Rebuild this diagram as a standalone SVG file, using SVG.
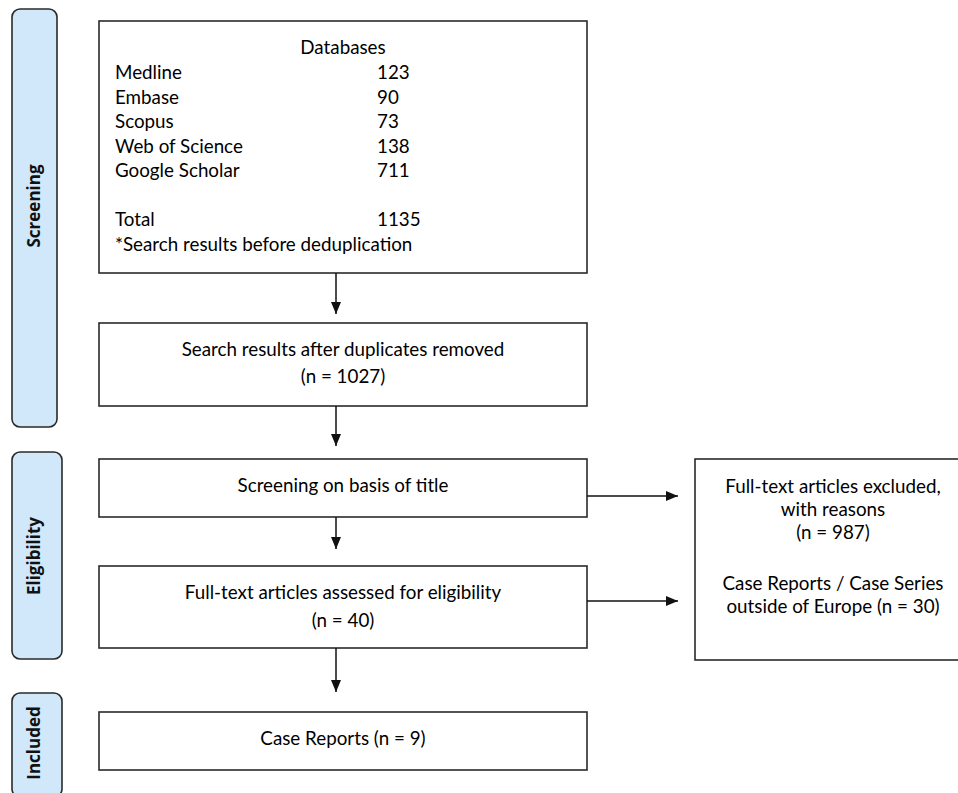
<svg xmlns="http://www.w3.org/2000/svg" width="958" height="793" viewBox="0 0 958 793">
<defs>
<marker id="ah" markerWidth="12" markerHeight="10" refX="12" refY="5" orient="auto" markerUnits="userSpaceOnUse">
<path d="M0,0 L12,5 L0,10 Z" fill="#111"/>
</marker>
<style>
.side{fill:#d0e8fa;stroke:#2a2a2a;stroke-width:1.6}
.box{fill:#fff;stroke:#2a2a2a;stroke-width:1.6}
.st{font-family:"Open Sans","Liberation Sans",sans-serif;font-weight:bold;font-size:17px;fill:#111;text-anchor:middle}
.t{font-family:Lato,"Liberation Sans",sans-serif;font-size:18.8px;fill:#000}
.c{text-anchor:middle}
.conn{stroke:#111;stroke-width:1.5;fill:none;marker-end:url(#ah)}
</style>
</defs>
<rect width="958" height="793" fill="#fff"/>
<g id="stage-screening">
<rect class="side" x="12" y="9" width="45" height="418" rx="8"/>
<text class="st" transform="translate(40,206) rotate(-90)">Screening</text>
</g>
<g id="stage-eligibility">
<rect class="side" x="12" y="452" width="50" height="207" rx="8"/>
<text class="st" transform="translate(40,556) rotate(-90)">Eligibility</text>
</g>
<g id="stage-included">
<rect class="side" x="12" y="693" width="50" height="104" rx="8"/>
<text class="st" transform="translate(40,743) rotate(-90)">Included</text>
</g>
<g id="databases">
<rect class="box" x="99" y="21" width="488" height="252"/>
<text class="t c" x="343" y="54">Databases</text>
<text class="t" x="115" y="79">Medline</text><text class="t" x="377" y="79">123</text>
<text class="t" x="115" y="103.5">Embase</text><text class="t" x="377" y="103.5">90</text>
<text class="t" x="115" y="128">Scopus</text><text class="t" x="377" y="128">73</text>
<text class="t" x="115" y="152.5">Web of Science</text><text class="t" x="377" y="152.5">138</text>
<text class="t" x="115" y="177">Google Scholar</text><text class="t" x="377" y="177">711</text>
<text class="t" x="115" y="226">Total</text><text class="t" x="377" y="226">1135</text>
<text class="t" x="115" y="250.5">*Search results before deduplication</text>
</g>
<g id="dedup">
<rect class="box" x="99" y="323" width="488" height="83"/>
<text class="t c" x="343" y="356">Search results after duplicates removed</text>
<text class="t c" x="343" y="383">(n = 1027)</text>
</g>
<g id="title-screen">
<rect class="box" x="99" y="459" width="488" height="58"/>
<text class="t c" x="343" y="492">Screening on basis of title</text>
</g>
<g id="fulltext">
<rect class="box" x="99" y="566" width="488" height="82"/>
<text class="t c" x="343" y="599">Full-text articles assessed for eligibility</text>
<text class="t c" x="343" y="627">(n = 40)</text>
</g>
<g id="included">
<rect class="box" x="99" y="712" width="488" height="58"/>
<text class="t c" x="343" y="745">Case Reports (n = 9)</text>
</g>
<g id="excluded">
<rect class="box" x="695" y="459" width="280" height="201"/>
<text class="t c" x="833" y="493">Full-text articles excluded,</text>
<text class="t c" x="833" y="516">with reasons</text>
<text class="t c" x="833" y="539">(n = 987)</text>
<text class="t c" x="833" y="590">Case Reports / Case Series</text>
<text class="t c" x="833" y="613">outside of Europe (n = 30)</text>
</g>
<g id="connectors">
<line class="conn" x1="336" y1="273" x2="336" y2="314"/>
<line class="conn" x1="336" y1="406" x2="336" y2="446"/>
<line class="conn" x1="336" y1="517" x2="336" y2="549"/>
<line class="conn" x1="336" y1="648" x2="336" y2="692"/>
<line class="conn" x1="587" y1="496" x2="678" y2="496"/>
<line class="conn" x1="587" y1="601" x2="678" y2="601"/>
</g>
</svg>
